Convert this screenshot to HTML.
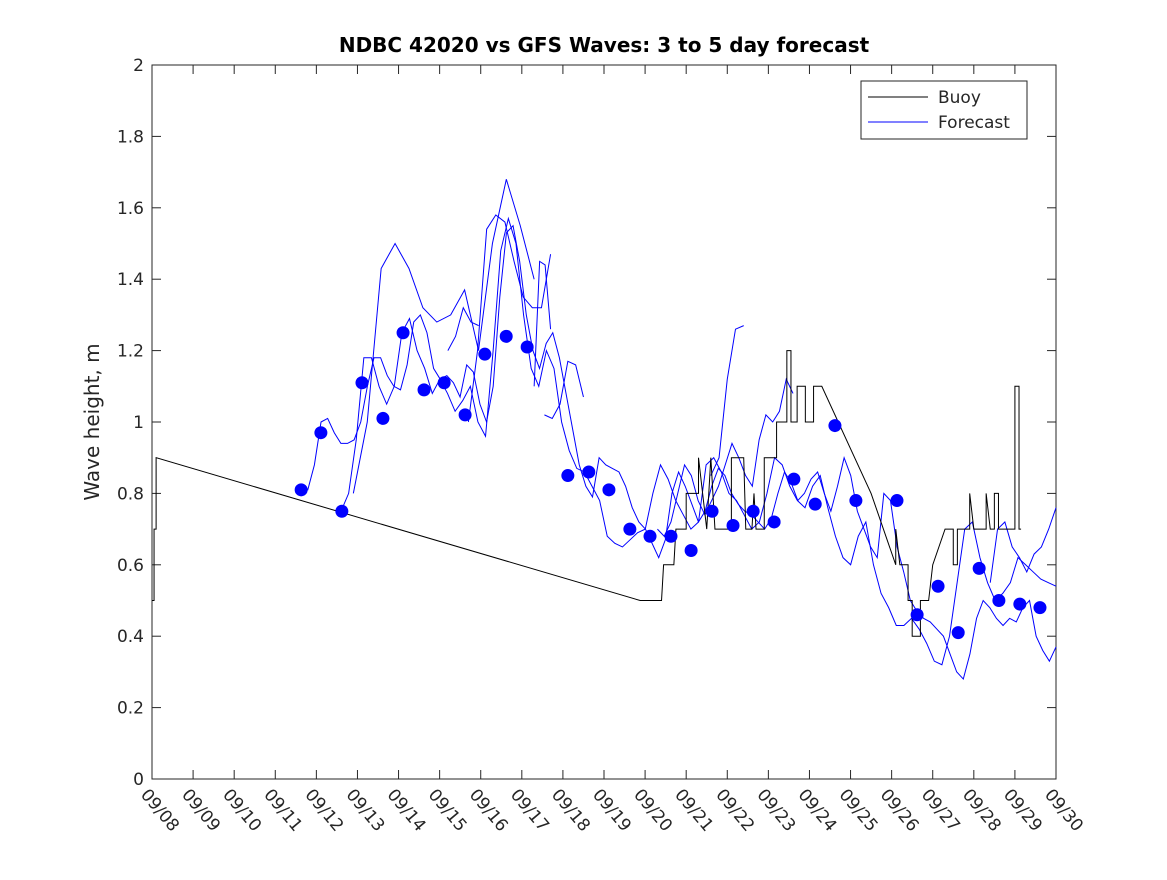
<!DOCTYPE html>
<html><head><meta charset="utf-8"><style>
body{margin:0;background:#fff;}
svg text{font-family:"DejaVu Sans","Liberation Sans",sans-serif;fill:#262626;}
</style></head><body>
<svg id="c" width="1167" height="875" xmlns="http://www.w3.org/2000/svg">
<rect width="1167" height="875" fill="#fff"/>
<text x="604" y="52" text-anchor="middle" font-size="20" font-weight="bold" style="fill:#000">NDBC 42020 vs GFS Waves: 3 to 5 day forecast</text>
<text transform="translate(99,422) rotate(-90)" text-anchor="middle" font-size="20">Wave height, m</text>
<g id="plot"></g>
</svg>
<script>
const xTickLabels=["09/08","09/09","09/10","09/11","09/12","09/13","09/14","09/15","09/16","09/17","09/18","09/19","09/20","09/21","09/22","09/23","09/24","09/25","09/26","09/27","09/28","09/29","09/30"];
const yTicks=[0,0.2,0.4,0.6,0.8,1,1.2,1.4,1.6,1.8,2];
const buoyDays=[0,.05,.05,.1,.1,11.88,12.4,12.45,12.7,12.75,13.0,13.0,13.3,13.3,13.5,13.6,13.7,14.1,14.1,14.4,14.45,14.6,14.65,14.7,14.9,14.9,15.2,15.2,15.45,15.45,15.55,15.55,15.7,15.7,15.9,15.9,16.1,16.1,16.3,17.5,18.1,18.1,18.2,18.4,18.4,18.5,18.5,18.7,18.7,18.9,19.0,19.3,19.5,19.5,19.6,19.6,19.9,19.9,20.0,20.3,20.3,20.4,20.5,20.5,20.6,20.6,21.0,21.0,21.1,21.1,21.15];
const buoyVals=[.5,.5,.7,.7,.9,.5,.5,.6,.6,.7,.7,.8,.8,.9,.7,.9,.7,.7,.9,.9,.7,.7,.8,.7,.7,.9,.9,1.0,1.0,1.2,1.2,1.0,1.0,1.1,1.1,1.0,1.0,1.1,1.1,.8,.6,.7,.6,.6,.5,.5,.4,.4,.5,.5,.6,.7,.7,.6,.6,.7,.7,.8,.7,.7,.8,.7,.7,.8,.8,.7,.7,1.1,1.1,.7,.7];
const dotDays=[3.63,4.11,4.62,5.11,5.62,6.11,6.62,7.11,7.62,8.10,8.62,9.13,10.12,10.63,11.12,11.63,12.12,12.63,13.12,13.63,14.14,14.63,15.14,15.62,16.14,16.62,17.13,18.13,18.62,19.13,19.62,20.13,20.61,21.12,21.61];
const dotVals=[.81,.97,.75,1.11,1.01,1.25,1.09,1.11,1.02,1.19,1.24,1.21,.85,.86,.81,.70,.68,.68,.64,.75,.71,.75,.72,.84,.77,.99,.78,.78,.46,.54,.41,.59,.50,.49,.48];
const fA={start:3.63,end:22,vals:[.81,.81,.88,1.0,1.01,.97,.94,.94,.95,1.0,1.1,1.18,1.18,1.13,1.10,1.09,1.16,1.28,1.30,1.25,1.15,1.12,1.13,1.11,1.07,1.16,1.14,1.05,1.0,1.1,1.35,1.53,1.55,1.45,1.30,1.20,1.15,1.22,1.25,1.18,1.08,.98,.88,.82,.79,.90,.88,.87,.86,.82,.76,.72,.70,.66,.62,.67,.80,.86,.82,.77,.72,.75,.82,.87,.85,.80,.77,.75,.74,.72,.70,.73,.80,.86,.83,.78,.80,.84,.86,.80,.75,.82,.90,.85,.75,.70,.65,.62,.80,.78,.65,.58,.50,.47,.45,.44,.42,.40,.35,.30,.28,.35,.45,.50,.48,.45,.43,.45,.44,.48,.50,.40,.36,.33,.37]};
const fB={start:4.6,end:22,vals:[.75,.80,.95,1.18,1.18,1.10,1.05,1.10,1.25,1.29,1.20,1.15,1.08,1.12,1.08,1.03,1.06,1.10,1.0,.96,1.2,1.48,1.57,1.50,1.30,1.15,1.10,1.2,1.15,1.0,.92,.87,.86,.82,.78,.68,.66,.65,.67,.69,.70,.80,.88,.84,.78,.74,.70,.72,.88,.90,.86,.80,.78,.74,.70,.72,.80,.90,.88,.82,.78,.76,.82,.85,.76,.68,.62,.60,.68,.72,.60,.52,.48,.43,.43,.45,.42,.38,.33,.32,.40,.55,.70,.72,.62,.55,.50,.52,.55,.62,.60,.58,.56,.55,.54]};
const fC={start:4.9,end:9.3,vals:[.8,1.0,1.43,1.50,1.43,1.32,1.28,1.30,1.37,1.20,1.50,1.68,1.55,1.40]};
const fD={start:7.2,end:7.95,vals:[1.2,1.24,1.32,1.28,1.27]};
const fE={start:7.7,end:9.7,vals:[1.0,1.2,1.54,1.58,1.56,1.45,1.35,1.32,1.32,1.47]};
const fF={start:9.3,end:9.7,vals:[1.1,1.45,1.44,1.26]};
const fG={start:9.55,end:10.5,vals:[1.02,1.01,1.05,1.17,1.16,1.07]};
const fH={start:13.6,end:14.4,vals:[.85,.90,1.12,1.26,1.27]};
const fI={start:12.3,end:15.6,vals:[.7,.68,.72,.80,.88,.85,.78,.74,.78,.82,.88,.94,.90,.85,.82,.95,1.02,1.0,1.03,1.12,1.08]};
const fJ={start:20.4,end:22,vals:[.55,.70,.72,.65,.62,.58,.63,.65,.70,.76]};
const forecasts=[fA,fB,fC,fD,fE,fF,fG,fH,fI,fJ];

const L=152,R=1056,T=65,B=779;
const xs=d=>L+(R-L)*d/22, ys=v=>B-(B-T)*v/2;
const g=document.getElementById('plot');const NS="http://www.w3.org/2000/svg";
function mk(t,a){const e=document.createElementNS(NS,t);for(const k in a)e.setAttribute(k,a[k]);g.appendChild(e);return e;}
let e=mk('rect',{x:L,y:T,width:R-L,height:B-T,fill:'none',stroke:'#262626','stroke-width':1});


yTicks.forEach(v=>{const y=ys(v);
 mk('line',{x1:L,x2:L+9,y1:y,y2:y,stroke:'#262626'});mk('line',{x1:R-9,x2:R,y1:y,y2:y,stroke:'#262626'});
 const t=mk('text',{x:L-8,y:y+6,'text-anchor':'end','font-size':17});t.textContent=String(v);
 
 });
xTickLabels.forEach((s,i)=>{const x=xs(i);
 mk('line',{x1:x,x2:x,y1:B,y2:B-9,stroke:'#262626'});mk('line',{x1:x,x2:x,y1:T,y2:T+9,stroke:'#262626'});
 const t=mk('text',{transform:`translate(${x-12},${B+16}) rotate(50)`,'font-size':17});t.textContent=s;
 
 });
forecasts.forEach(f=>{const n=f.vals.length;const st=(f.end-f.start)/(n-1);
 const p=mk('polyline',{points:f.vals.map((v,i)=>xs(f.start+i*st)+','+ys(v)).join(' '),fill:'none',stroke:'#0000ff','stroke-width':1});
 
 });
e=mk('polyline',{points:buoyDays.map((d,i)=>xs(d)+','+ys(buoyVals[i])).join(' '),fill:'none',stroke:'#000','stroke-width':1});


dotDays.forEach((d,i)=>{const c=mk('circle',{cx:xs(d),cy:ys(dotVals[i]),r:6.5,fill:'#0000ff'});
 
 });
const lg=mk('g',{});


lg.innerHTML='<rect x="861" y="81" width="166" height="58" fill="#fff" stroke="#262626"/><line x1="868" x2="928" y1="97" y2="97" stroke="#000"/><text x="938" y="103" font-size="17">Buoy</text><line x1="868" x2="928" y1="122" y2="122" stroke="#0000ff"/><text x="938" y="128" font-size="17">Forecast</text>';
</script>
</body></html>
